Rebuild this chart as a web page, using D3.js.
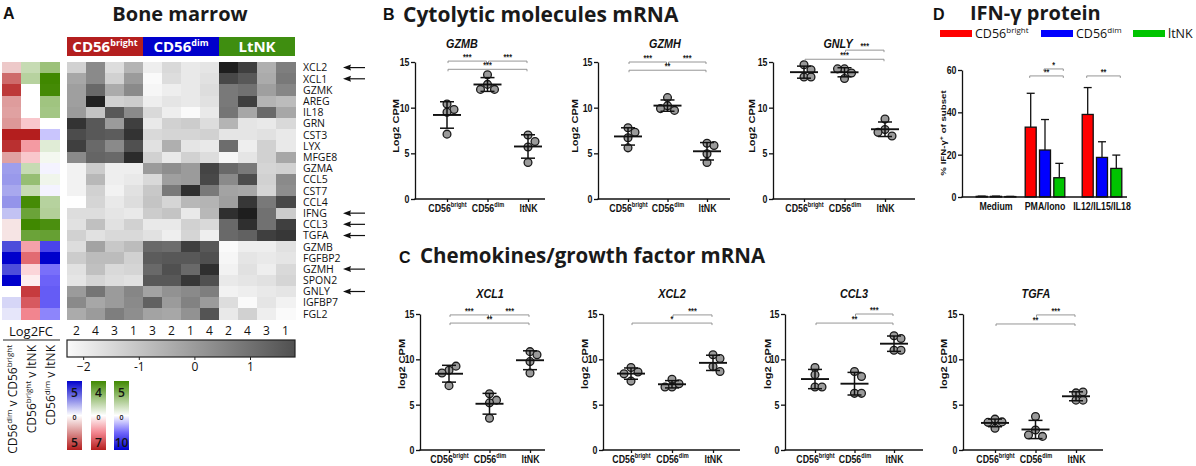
<!DOCTYPE html>
<html>
<head>
<meta charset="utf-8">
<script src="https://cdn.jsdelivr.net/npm/d3@7/dist/d3.min.js"></script>
<style>
  body { margin: 0; background: #fff; }
  svg { display: block; }
  .ax text { font-family: "Liberation Sans", Arial, sans-serif; font-weight: bold; font-size: 11px; fill: #111; }
  .ax path, .ax line { stroke: #111; stroke-width: 1.3px; }
</style>
</head>
<body>
<div id="chart"></div>
<script>
// ---------- data ----------
const heatGenes = ["XCL2","XCL1","GZMK","AREG","IL18","GRN","CST3","LYX","MFGE8","GZMA","CCL5","CST7",
  "CCL4","IFNG","CCL3","TGFA","GZMB","FGFBP2","GZMH","SPON2","GNLY","IGFBP7","FGL2"];
const arrowGenes = ["XCL2","XCL1","IFNG","CCL3","TGFA","GZMH","GNLY"];
const heatSubsets = ["CD56bright","CD56dim","LtNK"];
const donors = [2,4,3,1,3,2,1,4,2,4,3,1];

// row z-scores, 12 samples (4 per subset)
const heatZ = [
  [-1.3,0.4,-1.6,-0.6,-2.0,-1.5,-1.9,-1.8,3.0,2.2,-0.5,0.7],
  [-0.3,0.4,-1.3,0.0,-2.3,-1.6,-1.9,-1.7,2.0,1.6,-0.4,0.8],
  [-0.1,1.2,-0.4,0.4,-2.2,-2.0,-1.9,-1.6,0.8,1.0,-0.1,0.5],
  [-0.1,2.9,-1.3,-1.2,-2.0,-1.8,-1.9,-1.7,0.8,2.2,-0.6,-0.8],
  [0.0,-1.0,1.6,0.4,-1.5,-2.0,-2.3,-1.9,0.9,-0.3,1.2,-0.3],
  [2.5,1.6,0.0,2.2,-1.9,-1.3,-1.2,-1.6,-0.6,-1.8,-1.9,-1.5],
  [1.9,1.6,1.5,2.5,-1.5,-1.4,-1.4,-1.3,-1.8,-1.8,-1.7,-1.9],
  [2.2,1.2,0.4,1.8,-1.7,-0.5,-1.8,-1.9,1.1,-2.0,-1.3,-1.9],
  [0.4,1.3,1.2,2.7,-1.3,-1.9,-1.3,-1.6,-2.2,-1.8,-1.3,-0.3],
  [-2.1,-1.2,-2.0,-2.0,0.0,0.3,0.0,2.1,1.2,0.8,-1.4,-1.3],
  [-2.1,-0.7,-2.0,-1.9,-1.5,-0.1,0.0,2.0,0.4,1.9,-1.3,0.4],
  [-2.1,-1.3,-2.1,-1.7,-1.1,0.8,2.6,0.8,-0.2,-0.3,-1.4,0.3],
  [-2.4,-1.4,-1.9,-1.6,-1.0,-1.4,-0.7,-0.6,-0.1,2.4,0.8,2.0],
  [-1.6,-1.6,-1.8,-1.9,-1.2,-1.0,-1.9,-0.7,2.6,3.0,1.0,-1.2],
  [-1.7,-0.9,-1.7,-1.3,-1.9,-1.9,-1.3,-1.5,1.2,2.6,1.0,2.2],
  [-1.3,-1.7,-1.5,-1.5,-1.7,-2.0,-1.4,-2.0,1.2,1.4,2.2,2.4],
  [-1.6,-0.2,-1.1,-0.8,1.2,1.1,2.2,1.6,-2.3,-2.0,-2.0,-1.7],
  [-1.2,-0.8,-0.8,-1.3,1.5,1.6,1.6,1.8,-2.2,-1.8,-1.9,-1.8],
  [-1.7,-0.9,-1.5,-1.4,1.2,1.8,1.2,2.6,-2.1,-1.7,-2.0,-1.5],
  [-1.8,-1.4,-1.6,-1.7,1.6,1.6,2.4,1.8,-1.9,-1.8,-1.7,-1.4],
  [0.0,0.9,0.0,0.5,-0.2,0.2,0.4,0.7,-2.1,-2.0,-1.9,-1.8],
  [0.4,-0.3,0.0,0.4,1.4,0.0,0.6,0.0,-1.6,-2.3,-1.8,-2.1],
  [-0.4,0.0,0.7,0.3,-0.2,-0.3,0.2,1.7,-1.9,-1.3,-2.0,-2.3]
];
const grayTicks = [-2, -1, 0, 1];
const grayTickLabels = ["\u22122", "-1", "0", "1"];

// log2 fold changes (sign: + = top colour of legend)
const fcDimVsBright  = [-1.2,-3.3,-4.4,-2.2,-2.1,-2.3,-5.0,-4.6,-2.1,1.9,2.0,1.7,2.1,1.2,-0.6,-0.6,3.5,5.0,3.5,5.0,0.0,0.8,0.5];
const fcLtnkVsBright = [1.2,1.5,0,0,0,-1.6,-7.0,-2.9,-1.6,1.2,2.2,1.2,3.9,3.1,4.0,3.1,-2.7,-4.4,-1.2,-0.5,-6.0,-5.0,-3.5];
const fcLtnkVsDim    = [2.6,5.0,4.9,2.5,2.4,0,-1.9,0.8,0.3,-0.4,0.4,-0.4,1.9,2.0,4.7,4.0,-6.7,-10,-4.7,-5.2,-5.5,-5.5,-4.0];
const fcTop = [5, 4, 5];
const fcBottom = [5, 7, 10];

// log2 CPM per donor: [CD56bright, CD56dim, ltNK]
const GZMB = [[10.4,9.8,9.5,7.1],[13.6,12.55,12.0,12.0],[7.0,6.3,5.7,4.0]];
const GZMH = [[7.8,7.3,6.7,5.6],[11.1,10.2,9.7,9.9],[6.1,5.85,4.95,4.0]];
const GNLY = [[14.7,14.15,13.35,13.35],[14.25,13.8,14.25,13.2],[8.75,7.6,6.9,7.3]];
const XCL1 = [[8.8,9.25,8.5,7.1],[6.2,5.5,5.2,3.5],[10.85,10.5,9.75,8.5]];
const XCL2 = [[9.1,8.6,8.4,7.6],[7.8,7.3,6.95,6.95],[10.5,10.1,9.2,8.65]];
const CCL3 = [[9.1,8.3,6.95,6.95],[8.65,8.1,6.25,6.25],[12.6,12.3,11.0,11.0]];
const TGFA = [[3.4,3.1,3.05,2.4],[3.7,2.2,1.5,1.65],[6.3,6.4,5.5,5.5]];

// significance: [groupA, groupB, label, y level in log2 CPM]
const sigGZMB = [[0,1,"***",15.1],[1,2,"***",15.1],[0,2,"***",14.2]];
const sigGZMH = [[0,1,"***",15.0],[1,2,"***",15.0],[0,2,"**",14.1]];
const sigGNLY = [[1,2,"***",16.3],[0,2,"***",15.3]];
const sigXCL1 = [[0,1,"***",14.9],[1,2,"***",14.9],[0,2,"**",14.0]];
const sigXCL2 = [[1,2,"***",14.9],[0,2,"*",14.0]];
const sigCCL3 = [[1,2,"***",15.0],[0,2,"**",14.0]];
const sigTGFA = [[1,2,"***",14.9],[0,2,"**",13.9]];

// IFN-gamma protein, % of subset
const ifngConditions = ["Medium","PMA/Iono","IL12/IL15/IL18"];
const ifngMean = [[0.3,0.3,0.2],[33.0,22.2,9.1],[39.0,18.7,13.5]];
const ifngSD   = [[0.1,0.1,0.1],[16.0,14.4,6.8],[12.7,7.4,6.3]];
const sigIFNG = [[1,0,2,"**",57.2],[1,1,2,"*",60.5],[2,0,2,"**",57.2]];

// ---------- helpers ----------
const SANS = "'Open Sans', sans-serif";
const ARIAL = "'Liberation Sans', Arial, sans-serif";
const SQ = 0.8; // graph text in B-D is horizontally squeezed in the source
const svg = d3.select("#chart").append("svg").attr("width", 1196).attr("height", 466);
const defs = svg.append("defs");

// parts: [[text, isSup], ...]
function rich(text, parts, supSize, rise) {
  let cur = 0;
  parts.forEach(([s, sup]) => {
    const target = sup ? -rise : 0;
    const t = text.append("tspan").attr("dy", target - cur).text(s);
    if (sup) t.attr("font-size", supSize);
    cur = target;
  });
  return text;
}
const subsetParts = [[["CD56",0],["bright",1]], [["CD56",0],["dim",1]], [["ltNK",0]]];

function letter(x, y, s) {
  svg.append("text").attr("x", x).attr("y", y).text(s)
    .attr("font-family", ARIAL).attr("font-weight", "bold").attr("font-size", 16).attr("fill", "#111");
}
function title(x, y, s, anchor) {
  return svg.append("text").attr("x", x).attr("y", y).text(s).attr("text-anchor", anchor || "start")
    .attr("font-family", SANS).attr("font-weight", 700).attr("font-size", 21).attr("fill", "#1a1a1a");
}
function sqText(g, x, y, size, rotate) {
  return g.append("text").attr("transform", `translate(${x},${y}) scale(${SQ},1)` + (rotate ? " rotate(-90)" : ""))
    .attr("font-family", ARIAL).attr("font-weight", "bold").attr("font-size", size).attr("fill", "#111");
}
function squeezeLeftTicks(axisG, offset) {
  axisG.selectAll(".tick text").attr("x", -offset / SQ).attr("transform", `scale(${SQ},1)`);
}

// ---------- panel A ----------
letter(3, 19, "A");
title(180, 21, "Bone marrow", "middle").attr("font-size", 20);

const hx = d3.scaleBand().domain(d3.range(12)).range([67, 295]);
const hy = d3.scaleBand().domain(heatGenes).range([62, 319.5]);
const grayScale = d3.scaleLinear().domain([-2.3, 1.8]).range(["#fafafa", "#505050"]);
const headerColors = ["#b41f1f", "#0000cc", "#3f8e10"];

heatSubsets.forEach((s, i) => {
  svg.append("rect").attr("x", hx(i * 4)).attr("y", 37).attr("width", hx.bandwidth() * 4).attr("height", 19)
    .attr("fill", headerColors[i]);
  const t = svg.append("text").attr("x", hx(i * 4) + hx.bandwidth() * 2).attr("y", 52).attr("text-anchor", "middle")
    .attr("font-family", SANS).attr("font-weight", 700).attr("font-size", 15).attr("fill", "#fff");
  if (i < 2) rich(t, subsetParts[i], 9, 6); else t.text("LtNK");
});

const cells = svg.append("g").attr("shape-rendering", "crispEdges");
heatGenes.forEach((g, i) => {
  heatZ[i].forEach((z, j) => {
    cells.append("rect").attr("x", hx(j)).attr("y", hy(g))
      .attr("width", hx.bandwidth() + 0.5).attr("height", hy.bandwidth() + 0.5).attr("fill", grayScale(z));
  });
});

// log2FC strip
const fx = d3.scaleBand().domain([0, 1, 2]).range([2, 59]);
const fcCols = [fcDimVsBright, fcLtnkVsBright, fcLtnkVsDim];
const fcScales = [
  d3.scaleLinear().domain([-5, 0, 5]).range(["#b41e1e", "#ffffff", "#0000cc"]),
  d3.scaleLinear().domain([-7, -3.5, 0, 4]).range(["#b41e1e", "#f2858f", "#ffffff", "#408800"]),
  d3.scaleLinear().domain([-10, -5, 0, 5]).range(["#0000cc", "#7066fa", "#ffffff", "#408800"])
];
fcCols.forEach((col, k) => {
  col.forEach((v, i) => {
    cells.append("rect").attr("x", fx(k)).attr("y", hy(heatGenes[i]))
      .attr("width", fx.bandwidth() + 0.5).attr("height", hy.bandwidth() + 0.5).attr("fill", fcScales[k](v));
  });
});

// gene labels + arrows
heatGenes.forEach(g => {
  const cy = hy(g) + hy.bandwidth() / 2;
  svg.append("text").attr("x", 303).attr("y", cy).attr("dy", "0.36em").text(g)
    .attr("font-family", SANS).attr("font-size", 10.5).attr("fill", "#111");
  if (arrowGenes.includes(g)) {
    svg.append("line").attr("x1", 348).attr("x2", 365).attr("y1", cy).attr("y2", cy)
      .attr("stroke", "#111").attr("stroke-width", 1.2);
    svg.append("path").attr("d", `M343,${cy}L351,${cy - 3}L350,${cy}L351,${cy + 3}Z`).attr("fill", "#111");
  }
});

// donor numbers
donors.forEach((d, j) => {
  svg.append("text").attr("x", hx(j) + hx.bandwidth() / 2).attr("y", 335).attr("text-anchor", "middle").text(d)
    .attr("font-family", SANS).attr("font-size", 12).attr("fill", "#111");
});

// gray legend
const lx = d3.scaleLinear().domain([-2.3, 1.8]).range([67, 295]);
const gg = defs.append("linearGradient").attr("id", "grayGrad");
d3.range(0, 1.01, 0.1).forEach(t => {
  gg.append("stop").attr("offset", t).attr("stop-color", grayScale(-2.3 + t * 4.1));
});
svg.append("rect").attr("x", 67).attr("y", 340).attr("width", 228).attr("height", 17)
  .attr("fill", "url(#grayGrad)").attr("stroke", "#222").attr("stroke-width", 1.2);
grayTicks.forEach((v, i) => {
  svg.append("line").attr("x1", lx(v)).attr("x2", lx(v)).attr("y1", 357).attr("y2", 360).attr("stroke", "#222");
  svg.append("text").attr("x", lx(v)).attr("y", 371).attr("text-anchor", "middle").text(grayTickLabels[i])
    .attr("font-family", SANS).attr("font-size", 12).attr("fill", "#111");
});

// Log2FC legend
svg.append("text").attr("x", 31).attr("y", 336).attr("text-anchor", "middle").text("Log2FC")
  .attr("font-family", SANS).attr("font-size", 13).attr("fill", "#111");
svg.append("line").attr("x1", 3).attr("x2", 60).attr("y1", 340).attr("y2", 340).attr("stroke", "#222");
const fcLabels = [
  [["CD56",0],["dim",1],[" v CD56",0],["bright",1]],
  [["CD56",0],["bright",1],[" v ltNK",0]],
  [["CD56",0],["dim",1],[" v ltNK",0]]
];
fcLabels.forEach((p, k) => {
  const t = svg.append("text").attr("transform", `translate(${fx(k) + fx.bandwidth() / 2 + 5},345) rotate(-90)`)
    .attr("text-anchor", "end").attr("font-family", SANS).attr("font-size", 12).attr("fill", "#111");
  rich(t, p, 8, 5);
});
const boxX = [67, 91, 114];
fcScales.forEach((sc, k) => {
  const grad = defs.append("linearGradient").attr("id", "fcGrad" + k)
    .attr("x1", 0).attr("y1", 0).attr("x2", 0).attr("y2", 1);
  d3.range(0, 1.001, 0.05).forEach(t => {
    const v = t < 0.5 ? fcTop[k] * (1 - t * 2) : -fcBottom[k] * (t * 2 - 1);
    grad.append("stop").attr("offset", t).attr("stop-color", sc(v));
  });
  svg.append("rect").attr("x", boxX[k]).attr("y", 381).attr("width", 15).attr("height", 69)
    .attr("fill", `url(#fcGrad${k})`);
  const cx = boxX[k] + 7.5;
  const num = (y, s, size) => svg.append("text").attr("x", cx).attr("y", y).attr("text-anchor", "middle").text(s)
    .attr("font-family", SANS).attr("font-weight", 600).attr("font-size", size).attr("fill", "#111");
  num(397, fcTop[k], 12);
  num(420, 0, 7);
  num(447, fcBottom[k], 12);
});

// ---------- scatter panels (B, C) ----------
function dodge(vals, y, step, minDist) {
  const placed = [];
  return vals.map(v => {
    const py = y(v);
    let off = 0;
    for (let k = 0; k < 20; k++) {
      off = k === 0 ? 0 : (k % 2 ? 1 : -1) * Math.ceil(k / 2) * step;
      if (placed.every(p => Math.hypot(p[0] - off, p[1] - py) >= minDist)) break;
    }
    placed.push([off, py]);
    return off;
  });
}

function scatter(cfg, y, yLabel, labelY, titleY) {
  const g = svg.append("g");
  const x = d3.scalePoint().domain([0, 1, 2]).range([cfg.c0, cfg.c1]);

  const ya = g.append("g").attr("class", "ax").attr("transform", `translate(${cfg.x0},0)`)
    .call(d3.axisLeft(y).tickValues([0, 5, 10, 15]).tickSize(4).tickSizeOuter(0));
  squeezeLeftTicks(ya, 5.5);

  const xa = g.append("g").attr("class", "ax").attr("transform", `translate(0,${y(0)})`)
    .call(d3.axisBottom(x).tickSize(3).tickSizeOuter(0).tickFormat(""));
  xa.select(".domain").remove();
  xa.append("line").attr("x1", cfg.x0 - 0.6).attr("x2", cfg.x1);
  xa.selectAll(".tick text").each(function (d) {
    const t = d3.select(this).attr("y", 13).attr("dy", null).attr("transform", `scale(${SQ},1)`);
    rich(t, subsetParts[d], 7, 4.5);
  });

  sqText(g, cfg.lx + 2.2, labelY, 11, true).attr("text-anchor", "middle").text(yLabel);

  sqText(g, cfg.tx, titleY, 13.5).attr("text-anchor", "middle").attr("font-style", "italic").text(cfg.gene);

  cfg.data.forEach((vals, k) => {
    const offs = dodge(vals, y, 7, 7);
    vals.forEach((v, i) => {
      g.append("circle").attr("cx", x(k) + offs[i]).attr("cy", y(v)).attr("r", 3.9)
        .attr("fill", "#9a9a9a").attr("stroke", "#1a1a1a").attr("stroke-width", 1.3);
    });
  });
  cfg.data.forEach((vals, k) => {
    const m = d3.mean(vals), sd = d3.deviation(vals), cx = x(k);
    const line = (x1, y1, x2, y2, w) => g.append("line").attr("x1", x1).attr("y1", y1).attr("x2", x2).attr("y2", y2)
      .attr("stroke", "#111").attr("stroke-width", w);
    line(cx, y(m - sd), cx, y(m + sd), 1.5);
    line(cx - 7, y(m - sd), cx + 7, y(m - sd), 1.5);
    line(cx - 7, y(m + sd), cx + 7, y(m + sd), 1.5);
    line(cx - 14, y(m), cx + 14, y(m), 1.9);
  });

  cfg.sig.forEach(([a, b, lab, lv]) => {
    const x1 = x(a) + 1, x2 = x(b) - 1, yy = y(lv);
    g.append("path").attr("d", `M${x1},${yy + 2}V${yy}H${x2}V${yy + 2}`)
      .attr("fill", "none").attr("stroke", "#8a8a8a").attr("stroke-width", 0.9);
    sqText(g, (x1 + x2) / 2, yy - 1, 9).attr("text-anchor", "middle").attr("fill", "#222").text(lab);
  });
}

letter(383, 20, "B");
title(403, 22, "Cytolytic molecules mRNA");
const yB = d3.scaleLinear().domain([0, 15]).range([199, 62]);
[
  { gene: "GZMB", data: GZMB, sig: sigGZMB, x0: 415, x1: 545, c0: 447, c1: 528, tx: 462, lx: 397 },
  { gene: "GZMH", data: GZMH, sig: sigGZMH, x0: 598, x1: 730, c0: 628, c1: 707, tx: 665, lx: 576 },
  { gene: "GNLY", data: GNLY, sig: sigGNLY, x0: 773, x1: 915, c0: 804, c1: 885, tx: 838, lx: 753 }
].forEach(cfg => scatter(cfg, yB, "Log2 CPM", 126, 48));

letter(399, 263, "C");
title(420, 263, "Chemokines/growth factor mRNA").attr("font-size", 20.5);
const yC = d3.scaleLinear().domain([0, 15]).range([450, 314]);
[
  { gene: "XCL1", data: XCL1, sig: sigXCL1, x0: 420, x1: 545, c0: 449, c1: 530, tx: 490, lx: 403 },
  { gene: "XCL2", data: XCL2, sig: sigXCL2, x0: 603, x1: 740, c0: 631, c1: 713, tx: 672, lx: 586 },
  { gene: "CCL3", data: CCL3, sig: sigCCL3, x0: 785, x1: 923, c0: 815, c1: 894, tx: 854, lx: 769 },
  { gene: "TGFA", data: TGFA, sig: sigTGFA, x0: 963, x1: 1103, c0: 995, c1: 1076, tx: 1036, lx: 945 }
].forEach(cfg => scatter(cfg, yC, "log2 CPM", 364, 298));

// ---------- panel D ----------
letter(933, 20, "D");
title(970, 20, "IFN-\u03b3 protein").attr("font-size", 20);
const barColors = ["#ff0000", "#0000ff", "#00c400"];
subsetParts.forEach((p, k) => {
  const lx0 = [940, 1041, 1133][k];
  svg.append("rect").attr("x", lx0).attr("y", 30).attr("width", 32).attr("height", 7).attr("fill", barColors[k]);
  const t = svg.append("text").attr("x", lx0 + 35).attr("y", 38)
    .attr("font-family", SANS).attr("font-size", 12.5).attr("fill", "#111");
  rich(t, p, 8, 5);
});

const yD = d3.scaleLinear().domain([0, 60]).range([197, 70]);
const xD = d3.scaleOrdinal().domain(ifngConditions).range([996, 1045, 1102]);
const inner = d3.scalePoint().domain([0, 1, 2]).range([-14.3, 14.3]);
const gD = svg.append("g");
ifngConditions.forEach((c, ci) => {
  ifngMean[ci].forEach((m, k) => {
    const cx = xD(c) + inner(k), top = yD(m + ifngSD[ci][k]);
    gD.append("line").attr("x1", cx).attr("x2", cx).attr("y1", yD(m)).attr("y2", top)
      .attr("stroke", "#111").attr("stroke-width", 1.3);
    gD.append("line").attr("x1", cx - 4).attr("x2", cx + 4).attr("y1", top).attr("y2", top)
      .attr("stroke", "#111").attr("stroke-width", 1.3);
    gD.append("rect").attr("x", cx - 5.5).attr("y", yD(m)).attr("width", 11).attr("height", yD(0) - yD(m))
      .attr("fill", barColors[k]).attr("stroke", "#111").attr("stroke-width", 1.3);
  });
});
const yaD = gD.append("g").attr("class", "ax").attr("transform", "translate(962,0)")
  .call(d3.axisLeft(yD).tickValues([0, 20, 40, 60]).tickSize(4).tickSizeOuter(0));
yaD.selectAll(".tick text").attr("font-size", 10);
squeezeLeftTicks(yaD, 5.5);
const xaD = gD.append("g").attr("class", "ax").attr("transform", `translate(0,${yD(0)})`);
xaD.append("line").attr("x1", 961.4).attr("x2", 1127);
ifngConditions.forEach(c => {
  sqText(xaD, xD(c), 13, 12.5).attr("text-anchor", "middle").text(c);
});
const yl = sqText(gD, 946, 133, 9.7, true).attr("text-anchor", "middle");
rich(yl, [["% IFN-\u03b3", 0], ["+", 1], [" of subset", 0]], 7, 4);
sigIFNG.forEach(([ci, a, b, lab, lv]) => {
  const x1 = xD(ifngConditions[ci]) + inner(a) - 1, x2 = xD(ifngConditions[ci]) + inner(b) + 4, yy = yD(lv);
  gD.append("path").attr("d", `M${x1},${yy + 2}V${yy}H${x2}V${yy + 2}`)
    .attr("fill", "none").attr("stroke", "#8a8a8a").attr("stroke-width", 0.9);
  sqText(gD, (x1 + x2) / 2, yy - 1, 9).attr("text-anchor", "middle").attr("fill", "#222").text(lab);
});
</script>
</body>
</html>
